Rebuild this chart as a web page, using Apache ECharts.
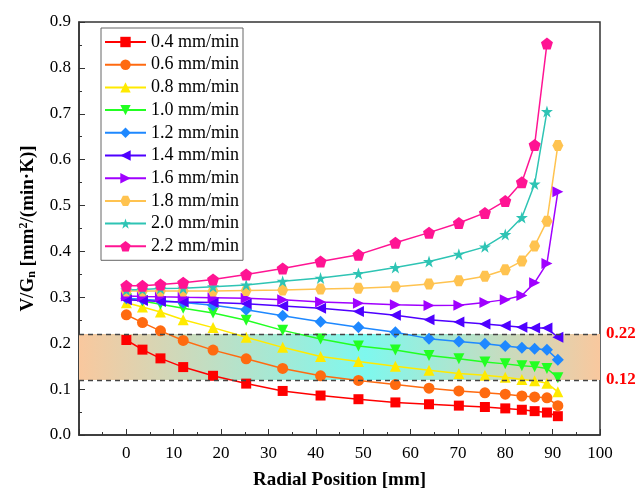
<!DOCTYPE html>
<html>
<head>
<meta charset="utf-8">
<script src="https://cdn.jsdelivr.net/npm/echarts@6/dist/echarts.min.js"></script>
<style>
  html, body { margin: 0; padding: 0; background: #fff; }
  #main { width: 642px; height: 495px; }
</style>
</head>
<body>
<div id="main"></div>
<script>
// radial positions (mm), shared by all series
const xPos = [0, 3.4, 7.2, 12, 18.3, 25.3, 33, 41, 49, 56.8, 63.9, 70.2, 75.7, 80, 83.5, 86.2, 88.8, 91.1];

const names = ['0.4 mm/min', '0.6 mm/min', '0.8 mm/min', '1.0 mm/min', '1.2 mm/min',
               '1.4 mm/min', '1.6 mm/min', '1.8 mm/min', '2.0 mm/min', '2.2 mm/min'];

const v04 = [0.207, 0.186, 0.167, 0.148, 0.129, 0.112, 0.096, 0.086, 0.078, 0.071, 0.067, 0.064, 0.061, 0.058, 0.055, 0.052, 0.049, 0.041];
const v06 = [0.262, 0.245, 0.227, 0.206, 0.185, 0.166, 0.145, 0.129, 0.119, 0.110, 0.102, 0.096, 0.092, 0.089, 0.085, 0.083, 0.081, 0.064];
const v08 = [0.288, 0.279, 0.268, 0.251, 0.234, 0.213, 0.191, 0.171, 0.160, 0.150, 0.141, 0.134, 0.130, 0.126, 0.121, 0.118, 0.113, 0.094];
const v10 = [0.297, 0.292, 0.285, 0.276, 0.266, 0.250, 0.228, 0.209, 0.194, 0.185, 0.173, 0.166, 0.159, 0.155, 0.151, 0.149, 0.145, 0.125];
const v12 = [0.298, 0.296, 0.293, 0.289, 0.283, 0.273, 0.260, 0.247, 0.235, 0.224, 0.210, 0.204, 0.199, 0.194, 0.190, 0.188, 0.186, 0.164];
const v14 = [0.295, 0.293, 0.291, 0.290, 0.289, 0.286, 0.281, 0.276, 0.269, 0.261, 0.251, 0.246, 0.242, 0.238, 0.235, 0.233, 0.233, 0.213];
const v16 = [0.303, 0.302, 0.301, 0.300, 0.299, 0.298, 0.295, 0.290, 0.287, 0.284, 0.282, 0.283, 0.289, 0.295, 0.304, 0.332, 0.374, 0.530];
const v18 = [0.314, 0.314, 0.314, 0.314, 0.314, 0.315, 0.316, 0.318, 0.320, 0.323, 0.329, 0.336, 0.346, 0.360, 0.379, 0.412, 0.466, 0.631];
const v20 = [0.316, 0.317, 0.319, 0.320, 0.323, 0.327, 0.335, 0.342, 0.352, 0.365, 0.378, 0.394, 0.410, 0.437, 0.474, 0.547, 0.705];
const v22 = [0.325, 0.325, 0.328, 0.332, 0.339, 0.350, 0.363, 0.378, 0.393, 0.419, 0.441, 0.462, 0.484, 0.510, 0.551, 0.632, 0.853];

const bandLow = 0.12;
const bandHigh = 0.22;

const values = [v04, v06, v08, v10, v12, v14, v16, v18, v20, v22];
const colors = ['#ff0000', '#ff6a10', '#ffea00', '#22ff22', '#1e88ff',
                '#4f00ff', '#a000ff', '#ffc350', '#2ec4b4', '#ff1493'];

const pentagon = 'path://M50 0 L97.6 34.5 L79.4 90.5 L20.6 90.5 L2.4 34.5 Z';
const star = 'path://M50 0 L61.2 34.5 L97.6 34.5 L68.2 55.9 L79.4 90.5 L50 69.1 L20.6 90.5 L31.8 55.9 L2.4 34.5 L38.8 34.5 Z';
const hexagon = 'path://M25 0 L75 0 L100 50 L75 100 L25 100 L0 50 Z';
const symbols = ['rect', 'circle', 'triangle', 'triangle', 'diamond', 'triangle', 'triangle', hexagon, star, pentagon];
const rotations = [0, 0, 0, 180, 0, 90, -90, 0, 0, 0];
const sizes = [10, 11, 11, 11, 12, 11, 11, 11, 12, 12];

const serif = 'Liberation Serif';

var myChart = echarts.init(document.getElementById('main'));

let series = [{
    name: 'band',
    type: 'line',
    data: [],
    z: 1,
    silent: true,
    markArea: {
        silent: true,
        itemStyle: {
            color: new echarts.graphic.LinearGradient(0, 0, 1, 0, [
                { offset: 0, color: '#f9c89e' },
                { offset: 0.55, color: '#7ef8ee' },
                { offset: 1, color: '#f9c89e' }
            ])
        },
        data: [[{ yAxis: bandLow }, { yAxis: bandHigh }]]
    },
    markLine: {
        silent: true,
        symbol: 'none',
        lineStyle: { color: '#444', type: [5, 4], width: 1.3 },
        label: {
            position: 'end',
            distance: 6,
            color: '#ff0000',
            fontFamily: serif,
            fontWeight: 'bold',
            fontSize: 17,
            formatter: p => p.value.toFixed(2)
        },
        data: [{ yAxis: bandHigh }, { yAxis: bandLow }]
    }
}];

for (let i = 0; i < names.length; i++) {
    series.push({
        name: names[i],
        type: 'line',
        z: 3,
        data: values[i].map((v, j) => [xPos[j], v]),
        symbol: symbols[i],
        symbolRotate: rotations[i],
        symbolSize: sizes[i],
        color: colors[i],
        lineStyle: { width: 1.5, color: colors[i] },
        itemStyle: { color: colors[i] }
    });
}

var option = {
    backgroundColor: '#fff',
    animation: false,
    grid: {
        left: 79, right: 42, top: 22, bottom: 58,
        show: true, borderColor: '#333', borderWidth: 1.5
    },
    legend: {
        data: names,
        orient: 'vertical',
        left: 101, top: 28,
        padding: [5, 4, 5, 3],
        itemWidth: 41, itemHeight: 13,
        itemGap: 4.7,
        borderColor: '#666', borderWidth: 1,
        textStyle: { fontFamily: serif, fontSize: 18, color: '#000' }
    },
    xAxis: {
        type: 'value',
        min: -10, max: 100, interval: 10,
        name: 'Radial Position [mm]',
        nameLocation: 'middle',
        nameGap: 36,
        nameTextStyle: { fontFamily: serif, fontWeight: 'bold', fontSize: 19, color: '#000' },
        axisLine: { onZero: false, lineStyle: { color: '#333', width: 1.5 } },
        axisTick: { inside: true, length: 6, lineStyle: { color: '#333' } },
        minorTick: { show: true, splitNumber: 2, length: 3, lineStyle: { color: '#333' } },
        splitLine: { show: false },
        axisLabel: {
            fontFamily: serif, fontSize: 17, color: '#000', margin: 10,
            formatter: v => (v < 0 ? '' : v)
        }
    },
    yAxis: {
        type: 'value',
        min: 0, max: 0.9, interval: 0.1,
        name: '{a|V/G}{s|n}{a| [mm}{p|2}{a|/(min·K)]}',
        nameLocation: 'middle',
        nameGap: 41,
        nameRotate: 90,
        nameTextStyle: {
            rich: {
                a: { fontFamily: serif, fontWeight: 'bold', fontSize: 19, color: '#000' },
                s: { fontFamily: serif, fontWeight: 'bold', fontSize: 12, color: '#000', verticalAlign: 'bottom', padding: [8, 0, 0, 0] },
                p: { fontFamily: serif, fontWeight: 'bold', fontSize: 12, color: '#000', verticalAlign: 'top', padding: [0, 0, 8, 0] }
            }
        },
        axisLine: { show: true, onZero: false, lineStyle: { color: '#333', width: 1.5 } },
        axisTick: { show: true, inside: true, length: 6, lineStyle: { color: '#333' } },
        minorTick: { show: true, splitNumber: 2, length: 3, lineStyle: { color: '#333' } },
        splitLine: { show: false },
        axisLabel: {
            fontFamily: serif, fontSize: 17, color: '#000', margin: 8,
            formatter: v => v.toFixed(1)
        }
    },
    series: series
};

myChart.setOption(option);
</script>
</body>
</html>
